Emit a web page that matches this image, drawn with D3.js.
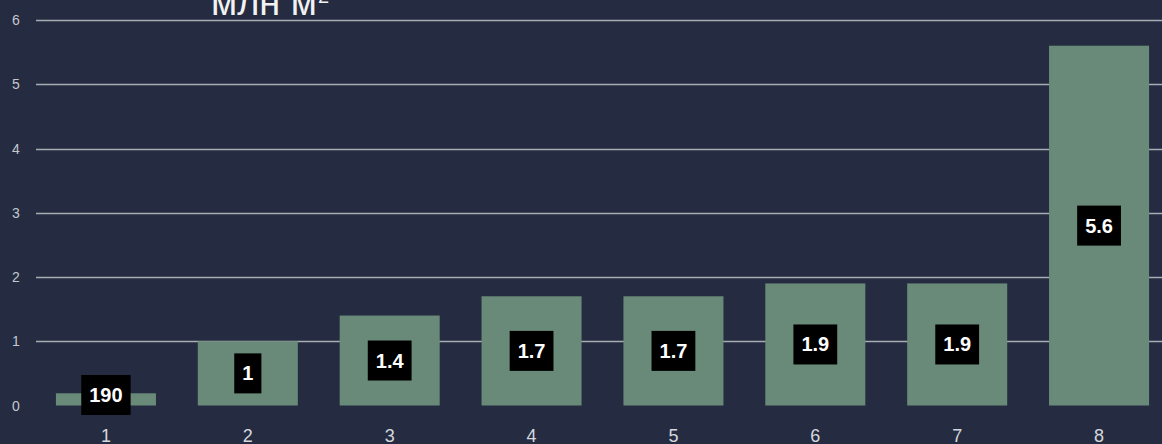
<!DOCTYPE html>
<html>
<head>
<meta charset="utf-8">
<script src="https://cdn.jsdelivr.net/npm/d3@7"></script>
<style>
  body { margin: 0; background: #252c41; }
  svg { display: block; }
</style>
</head>
<body>
<div id="chart"></div>
<script>
// categories and values (million m²), label text shown in the boxes
var categories = ["1", "2", "3", "4", "5", "6", "7", "8"];
var values = [0.19, 1, 1.4, 1.7, 1.7, 1.9, 1.9, 5.6];
var labels = ["190", "1", "1.4", "1.7", "1.7", "1.9", "1.9", "5.6"];
var yTicks = [0, 1, 2, 3, 4, 5, 6];

var w = 1162, h = 444;

var svg = d3.select("#chart").append("svg")
  .attr("width", w)
  .attr("height", h)
  .style("background", "#252c41");

var x = d3.scaleBand()
  .domain(categories)
  .range([35, 1170])
  .paddingInner(0.295)
  .paddingOuter(0.1475);

var y = d3.scaleLinear()
  .domain([0, 6])
  .range([405.5, 20]);

// gridlines
svg.append("g").selectAll("line")
  .data(yTicks.filter(function(d) { return d > 0; }))
  .enter().append("line")
  .attr("x1", 36)
  .attr("x2", w)
  .attr("y1", function(d) { return Math.round(y(d)) + 0.5; })
  .attr("y2", function(d) { return Math.round(y(d)) + 0.5; })
  .attr("stroke", "#a9acb3")
  .attr("stroke-width", 1.4);

// y tick labels
svg.append("g").selectAll("text")
  .data(yTicks)
  .enter().append("text")
  .attr("x", 16)
  .attr("y", function(d) { return y(d) + 5; })
  .attr("text-anchor", "middle")
  .attr("fill", "#c4c7cd")
  .style("font", "14px 'Liberation Sans', Arial, sans-serif")
  .text(function(d) { return d; });

// bars
svg.append("g").selectAll("rect")
  .data(values)
  .enter().append("rect")
  .attr("x", function(d, i) { return x(categories[i]); })
  .attr("width", x.bandwidth())
  .attr("y", function(d) { return y(d); })
  .attr("height", function(d) { return y(0) - y(d); })
  .attr("fill", "#698a78");

// x labels
svg.append("g").selectAll("text")
  .data(categories)
  .enter().append("text")
  .attr("x", function(d) { return x(d) + x.bandwidth() / 2; })
  .attr("y", 442)
  .attr("text-anchor", "middle")
  .attr("fill", "#d5d8dd")
  .style("font", "18px 'Liberation Sans', Arial, sans-serif")
  .text(function(d) { return d; });

// value labels in black boxes
var lab = svg.append("g").selectAll("g")
  .data(values)
  .enter().append("g")
  .attr("transform", function(d, i) {
    var cy = (y(d) + y(0)) / 2;
    if (i === 0) cy = 395;
    return "translate(" + (x(categories[i]) + x.bandwidth() / 2) + "," + cy + ")";
  });

lab.each(function(d, i) {
  var g = d3.select(this);
  var t = g.append("text")
    .attr("text-anchor", "middle")
    .attr("y", 7)
    .attr("fill", "#ffffff")
    .style("font", "bold 20px 'Liberation Sans', Arial, sans-serif")
    .text(labels[i]);
  var bw = t.node().getComputedTextLength() + 16;
  g.insert("rect", "text")
    .attr("x", -bw / 2)
    .attr("y", -20)
    .attr("width", bw)
    .attr("height", 40)
    .attr("fill", "#000000");
});

// title, cut off at the top edge
var title = svg.append("text")
  .attr("x", 211)
  .attr("y", 15)
  .attr("fill", "#f2f2f2")
  .style("font", "38px 'Liberation Sans', Arial, sans-serif");
title.append("tspan").text("млн м");
title.append("tspan").attr("dy", -12).attr("dx", 1).style("font-size", "20px").text("2");
</script>
</body>
</html>
